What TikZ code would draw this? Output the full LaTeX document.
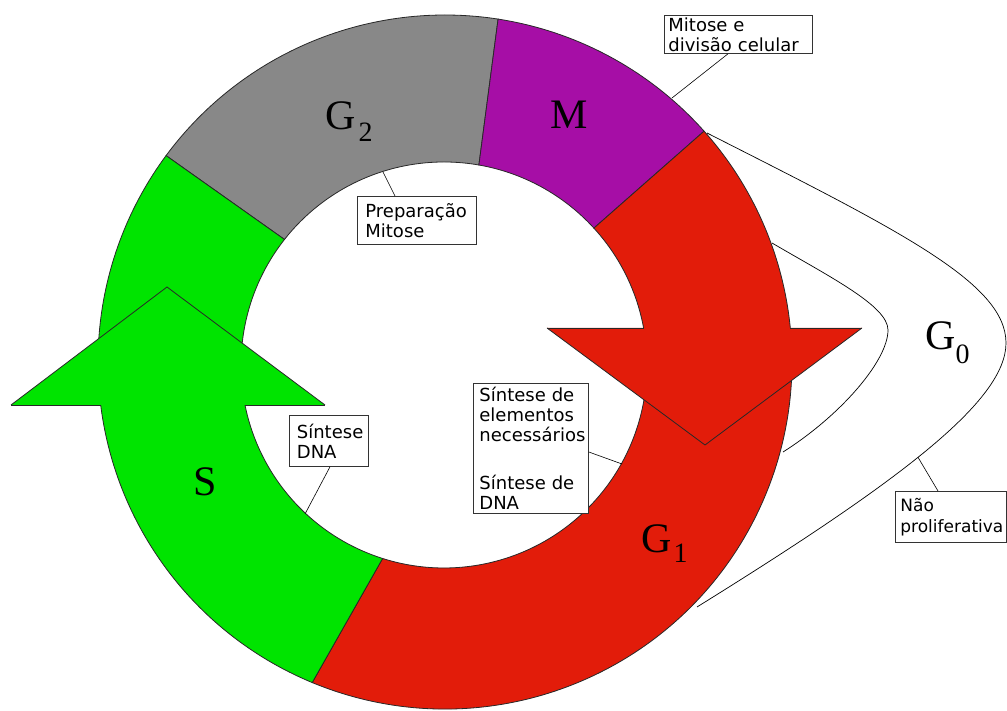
\documentclass[tikz,border=0pt]{standalone}
\usepackage{fontspec}
\setmainfont{Liberation Serif}
\newfontfamily\boxfont{DejaVu Sans}
\definecolor{cgreen}{RGB}{0,228,0}
\definecolor{cred}{RGB}{226,28,10}
\definecolor{cpurple}{RGB}{166,14,166}
\definecolor{cgray}{RGB}{136,136,136}
\definecolor{edge}{RGB}{40,40,40}
\begin{document}
\begin{tikzpicture}[x=1pt,y=1pt,
  ring/.style={draw=edge,line width=0.8pt},
  edgeline/.style={draw=edge,line width=0.8pt},
  g0line/.style={draw=black,line width=0.7pt},
  leader/.style={draw=black,line width=0.6pt},
  lbox/.style={draw=black!80,line width=0.8pt,fill=white,inner sep=0pt,anchor=north west,align=left,font=\boxfont\fontsize{18}{20}\selectfont},
  phase/.style={anchor=base west,inner sep=0pt,font=\fontsize{42}{42}\selectfont},
]
\useasboundingbox (0,0) rectangle (1007,711);
\fill[white] (0,0) rectangle (1007,711);
\coordinate (O) at (445,349);
\coordinate (I) at (444,346);
% sectors
\path[ring,fill=cgray] ([shift={(O)}]81.2:347) arc[start angle=81.2,end angle=143.5,radius=347pt] -- ([shift={(I)}]141.8:203) arc[start angle=141.8,end angle=80.1,radius=203pt] -- cycle;
\path[ring,fill=cpurple] ([shift={(O)}]41.7:347) arc[start angle=41.7,end angle=81.2,radius=347pt] -- ([shift={(I)}]80.1:203) arc[start angle=80.1,end angle=42.4,radius=203pt] -- cycle;
\path[ring,fill=cred] ([shift={(O)}]-112.5:347) arc[start angle=-112.5,end angle=41.7,radius=347pt] -- ([shift={(I)}]42.4:203) arc[start angle=42.4,end angle=-107.6,radius=203pt] -- cycle;
\path[ring,fill=cgreen] ([shift={(O)}]143.5:347) arc[start angle=143.5,end angle=247.5,radius=347pt] -- ([shift={(I)}]252.4:203) arc[start angle=252.4,end angle=141.8,radius=203pt] -- cycle;
% green arrow head
\fill[cgreen] (11,306) -- (167,424) -- (325,306) -- cycle;
\draw[edgeline] (11,306) -- (167,424) -- (325,306);
\draw[edgeline] (11,306) -- (100.7,306) (245,306) -- (325,306);
% red arrow head
\fill[cred] (547,383) -- (705,266) -- (862,383) -- cycle;
\draw[edgeline] (547,383) -- (705,266) -- (862,383);
\draw[edgeline] (547,383) -- (643.6,383) (790.3,383) -- (862,383);
% G0 loop
\draw[g0line] (707,578) .. controls (900,480) and (1006,428) .. (1006,368)
  .. controls (1006,310) and (900,230) .. (697,104) coordinate[pos=0.53] (g0p);
\draw[g0line] (772,468) .. controls (830,434) and (888,405) .. (888,381)
  .. controls (888,350) and (840,295) .. (783,259);
% leader end points
\coordinate (l1) at (672,613);
\coordinate (l2) at (383,539);
\coordinate (l3) at (305,197);
\coordinate (l4) at (622,247);
% boxes
\node[lbox,minimum width=148pt,minimum height=38pt,text width=140pt] (b1) at (664,696) {Mitose e\\divisão celular};
\node[lbox,minimum width=119pt,minimum height=48pt,text width=103pt] (b2) at (357,515) {Preparação\\Mitose};
\node[lbox,minimum width=79pt,minimum height=51pt,text width=64pt] (b3) at (289,296) {Síntese\\DNA};
\node[lbox,minimum width=115pt,minimum height=130pt,text width=103pt] (b4) at (473,328) {Síntese de\\elementos\\necessários\\[28pt]Síntese de\\DNA};
\node[lbox,minimum width=111pt,minimum height=51pt,text width=101pt,font=\boxfont\fontsize{17}{21}\selectfont] (b5) at (895,220) {Não\\proliferativa};
% leaders
\draw[leader] ([xshift=64]b1.south west) -- (l1);
\draw[leader] (l2) -- ([xshift=38]b2.north west);
\draw[leader] ([xshift=41]b3.south west) -- (l3);
\draw[leader] ([yshift=-69]b4.north east) -- (l4);
\draw[leader] ([xshift=43]b5.north west) -- (g0p);
% phase labels
\node[phase] (g2) at (325,581) {G\kern3pt\raisebox{-12pt}{\fontsize{28}{28}\selectfont 2}};
\node[phase] (m) at (550,582) {M};
\node[phase] (s) at (193,215) {S};
\node[phase] (g1) at (641,158) {G\kern2pt\raisebox{-10pt}{\fontsize{28}{28}\selectfont 1}};
\node[phase] (g0) at (925,361) {G\kern0pt\raisebox{-14pt}{\fontsize{28}{28}\selectfont 0}};
\end{tikzpicture}
\end{document}
